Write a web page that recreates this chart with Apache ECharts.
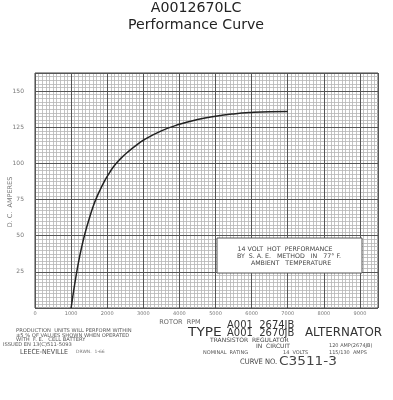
<!DOCTYPE html>
<html>
<head>
<meta charset="utf-8">
<script src="https://cdn.jsdelivr.net/npm/echarts@6/dist/echarts.min.js"></script>
<style>
  html, body { margin: 0; padding: 0; background: #fff; }
  #chart { width: 393px; height: 400px; }
</style>
</head>
<body>
<div id="chart"></div>
<script>
// ---- data ----
const rpm  = [1000, 1050, 1100, 1200, 1300, 1400, 1500, 1600, 1700, 1800, 1900, 2000, 2200, 2400, 2600, 2800, 3000, 3500, 4000, 4500, 5000, 5500, 6000, 6500, 7000];
const amps = [0,    8.5,  16.5, 31,   43,   53,   61.5, 69.5, 76,   81.5, 86.5, 91,   98.5, 104,  108.5, 112.5, 116, 122.5, 127, 130.3, 132.6, 134.2, 135.2, 135.7, 135.8];
const xTickLabels = ['0', '1000', '2000', '3000', '4000', '5000', '6000', '7000', '8000', '9000'];
const yTickLabels = ['25', '50', '75', '100', '125', '150'];

const chart = echarts.init(document.getElementById('chart'), null, { renderer: 'canvas' });
const FONT = 'DejaVu Sans';
const TXT = '#4a4a4a';

const points = rpm.map((r, i) => [r, amps[i]]);

function txt(x, y, s, size, opts) {
  opts = opts || {};
  return {
    type: 'text', x: x, y: y, silent: true,
    scaleX: opts.sx || 1,
    style: {
      text: s, fontSize: size, fontFamily: opts.font || FONT,
      fill: opts.color || TXT, align: opts.align || 'left', verticalAlign: 'middle',
      fontWeight: opts.weight || 'normal'
    },
    z: 100
  };
}

const option = {
  backgroundColor: '#fff',
  animation: false,
  grid: {
    left: 35, right: 15, top: 73, bottom: 92,
    show: true, borderColor: '#444', borderWidth: 1, backgroundColor: '#fff'
  },
  xAxis: [
    {
      type: 'value', min: 0, max: 9500, interval: 1000, z: 2,
      axisLine: { show: false }, axisTick: { show: false },
      splitLine: { show: true, lineStyle: { color: '#555', width: 1 } },
      axisLabel: {
        fontSize: 5, color: '#777', fontFamily: FONT, margin: 3,
        formatter: v => { const i = Math.round(v / 1000); return (v % 1000 === 0 && xTickLabels[i] !== undefined) ? xTickLabels[i] : ''; }
      }
    },
    {
      type: 'value', min: 0, max: 9500, interval: 100, z: 1,
      axisLine: { show: false }, axisTick: { show: false }, axisLabel: { show: false },
      splitLine: { show: true, lineStyle: { color: '#b5b5b5', width: 0.8 } }
    }
  ],
  yAxis: [
    {
      type: 'value', min: 0, max: 162.5, interval: 25, z: 2,
      axisLine: { show: false }, axisTick: { show: false },
      splitLine: { show: true, lineStyle: { color: '#555', width: 1 } },
      axisLabel: {
        fontSize: 6, color: '#777', fontFamily: FONT, margin: 11,
        formatter: v => { const i = Math.round(v / 25) - 1; return (v % 25 === 0 && yTickLabels[i] !== undefined) ? yTickLabels[i] : ''; }
      }
    },
    {
      type: 'value', min: 0, max: 162.5, interval: 2.5, z: 1,
      axisLine: { show: false }, axisTick: { show: false }, axisLabel: { show: false },
      splitLine: { show: true, lineStyle: { color: '#b5b5b5', width: 0.8 } }
    }
  ],
  series: [
    {
      type: 'line', xAxisIndex: 0, yAxisIndex: 0,
      data: points, smooth: 0.5, showSymbol: false, z: 10,
      lineStyle: { color: '#222', width: 1.5 }
    }
  ],
  graphic: [
    // title
    txt(196, 8.5, 'A0012670LC', 13.5, { align: 'center', color: '#222', sx: 1.05 }),
    txt(196, 25.5, 'Performance Curve', 13.5, { align: 'center', color: '#222', sx: 1.05 }),
    // y axis name
    {
      type: 'text', x: 10, y: 202, rotation: Math.PI / 2, silent: true, z: 100,
      style: { text: 'D. C.  AMPERES', fontSize: 6.5, fontFamily: FONT, fill: '#777', align: 'center', verticalAlign: 'middle' }
    },
    // x axis name
    txt(180, 322, 'ROTOR  RPM', 6.5, { align: 'center', color: '#666' }),
    // annotation box
    {
      type: 'rect', silent: true, z: 90,
      shape: { x: 217, y: 238, width: 145, height: 35 },
      style: { fill: '#fff', stroke: '#555', lineWidth: 1 }
    },
    txt(285, 249, '14 VOLT  HOT  PERFORMANCE', 6.3, { align: 'center', color: '#444' }),
    txt(289, 256, 'BY  S. A. E.   METHOD   IN   77° F.', 6.3, { align: 'center', color: '#444' }),
    txt(291, 263, 'AMBIENT   TEMPERATURE', 6.3, { align: 'center', color: '#444' }),
    // bottom-left notes
    txt(16, 331, 'PRODUCTION  UNITS WILL PERFORM WITHIN', 5.2, { color: '#555' }),
    txt(16, 335.5, '±5 % OF VALUES SHOWN WHEN OPERATED', 5.2, { color: '#555' }),
    txt(16, 340, 'WITH  F. E.   CELL BATTERY', 5.2, { color: '#555' }),
    txt(3, 345, 'ISSUED EN 13(C)511-5093', 5.2, { color: '#555' }),
    txt(20, 352, 'LEECE-NEVILLE', 7, { color: '#444', sx: 0.9 }),
    txt(76, 352, 'DRWN.  1-66', 4.5, { color: '#777' }),
    // type block
    txt(188, 333, 'TYPE', 12.5, { color: '#333', sx: 1.1 }),
    txt(227, 325, 'A001  2674JB', 10.5, { color: '#333', sx: 0.95 }),
    txt(227, 333.5, 'A001  2670JB', 10.5, { color: '#333', sx: 0.95 }),
    txt(210, 340, 'TRANSISTOR  REGULATOR', 6, { color: '#444' }),
    txt(256, 346, 'IN  CIRCUIT', 6, { color: '#444' }),
    txt(203, 352.5, 'NOMINAL  RATING', 5, { color: '#555' }),
    txt(283, 352.5, '14  VOLTS', 5, { color: '#555' }),
    txt(305, 333, 'ALTERNATOR', 12.5, { color: '#333', sx: 0.95 }),
    txt(329, 346, '120 AMP(2674JB)', 5, { color: '#555' }),
    txt(329, 352.5, '115/130  AMPS', 5, { color: '#555' }),
    txt(240, 362.5, 'CURVE NO.', 7.5, { color: '#444', sx: 0.9 }),
    txt(279, 362, 'C3511-3', 13, { color: '#444', sx: 1.05 })
  ]
};

chart.setOption(option);
</script>
</body>
</html>
